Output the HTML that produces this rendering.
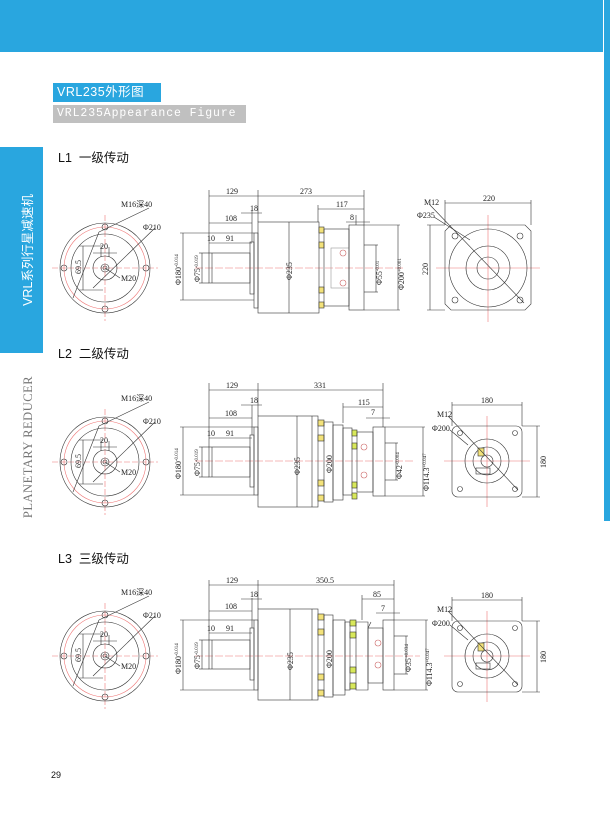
<!DOCTYPE html>
<html><head><meta charset="utf-8"><style>
body{margin:0;width:610px;height:826px;background:#fff;position:relative;overflow:hidden;font-family:"Liberation Sans","Noto Sans CJK SC",sans-serif}
.hdr{position:absolute;left:0;top:0;width:603px;height:52px;background:#29a6df}
.rs{position:absolute;left:604px;top:0;width:6px;height:521px;background:#29a6df}
.t1{position:absolute;left:53px;top:83px;width:108px;height:19px;background:#29a6df;color:#fff;font-size:12.5px;line-height:19px;padding-left:4px;box-sizing:border-box;letter-spacing:0.5px}
.t2{position:absolute;left:53px;top:105px;width:193px;height:18px;background:#c0c0c0;color:#fff;font-size:11.5px;line-height:18px;padding-left:4px;box-sizing:border-box;letter-spacing:0.9px;font-family:"Liberation Mono",monospace;white-space:nowrap;overflow:hidden}
.lb{position:absolute;left:0;top:147px;width:43px;height:206px;background:#29a6df}
.sec{position:absolute;left:58px;font-size:12.5px;color:#111}
.pg{position:absolute;left:51px;top:770px;font-size:9px;color:#111}
</style></head><body>
<div class="hdr"></div><div class="rs"></div>
<div class="t1">VRL235外形图</div>
<div class="t2">VRL235Appearance Figure</div>
<div class="lb"></div>
<div class="sec" style="top:147px">L1&nbsp; 一级传动</div>
<div class="sec" style="top:343px">L2&nbsp; 二级传动</div>
<div class="sec" style="top:548px">L3&nbsp; 三级传动</div>
<div class="pg">29</div>
<svg width="610" height="826" style="position:absolute;left:0;top:0" font-family="Liberation Serif,serif" font-size="8">
<text transform="translate(32,250) rotate(-90)" text-anchor="middle" fill="#fff" font-family="Liberation Sans,Noto Sans CJK SC,sans-serif" font-size="12.5">VRL系列行星减速机</text>
<text transform="translate(32,447) rotate(-90)" text-anchor="middle" fill="#777" font-size="12.5" letter-spacing="0.5">PLANETARY REDUCER</text>
<!-- left circle views -->
<g transform="translate(105,268)" fill="none" stroke="#333" stroke-width="0.6">
<line x1="-53" y1="0" x2="53" y2="0" stroke="#e77" stroke-dasharray="6,2"/><line x1="0" y1="-53" x2="0" y2="53" stroke="#e77" stroke-dasharray="6,2"/>
<circle r="45"/><circle r="41" stroke="#e77"/><circle r="34"/><circle r="12"/><circle r="4"/><circle r="2"/>
<circle cx="0" cy="-41" r="3"/><circle cx="0" cy="41" r="3"/><circle cx="-41" cy="0" r="3"/><circle cx="41" cy="0" r="3"/>
<line x1="-4" y1="-21" x2="-4" y2="-11"/><line x1="4" y1="-21" x2="4" y2="-11"/><line x1="-12" y1="-15" x2="12" y2="-15"/>
<line x1="-22" y1="-22" x2="-22" y2="22"/><line x1="-26" y1="-22" x2="-2" y2="-22"/><line x1="-26" y1="22" x2="-2" y2="22"/>
<line x1="44" y1="-60" x2="-6" y2="-36"/><line x1="-6" y1="-36" x2="-32" y2="30"/>
<line x1="50" y1="-40" x2="-12" y2="20"/><line x1="0" y1="0" x2="15" y2="10"/>
<g fill="#222" stroke="none"><text x="16" y="-61">M16深40</text><text x="38" y="-38">Φ210</text><text x="-5" y="-19">20</text><text x="16" y="13">M20</text><text transform="translate(-24,6) rotate(-90)">69.5</text></g>
</g>
<g transform="translate(0,194)"><g transform="translate(105,268)" fill="none" stroke="#333" stroke-width="0.6">
<line x1="-53" y1="0" x2="53" y2="0" stroke="#e77" stroke-dasharray="6,2"/><line x1="0" y1="-53" x2="0" y2="53" stroke="#e77" stroke-dasharray="6,2"/>
<circle r="45"/><circle r="41" stroke="#e77"/><circle r="34"/><circle r="12"/><circle r="4"/><circle r="2"/>
<circle cx="0" cy="-41" r="3"/><circle cx="0" cy="41" r="3"/><circle cx="-41" cy="0" r="3"/><circle cx="41" cy="0" r="3"/>
<line x1="-4" y1="-21" x2="-4" y2="-11"/><line x1="4" y1="-21" x2="4" y2="-11"/><line x1="-12" y1="-15" x2="12" y2="-15"/>
<line x1="-22" y1="-22" x2="-22" y2="22"/><line x1="-26" y1="-22" x2="-2" y2="-22"/><line x1="-26" y1="22" x2="-2" y2="22"/>
<line x1="44" y1="-60" x2="-6" y2="-36"/><line x1="-6" y1="-36" x2="-32" y2="30"/>
<line x1="50" y1="-40" x2="-12" y2="20"/><line x1="0" y1="0" x2="15" y2="10"/>
<g fill="#222" stroke="none"><text x="16" y="-61">M16深40</text><text x="38" y="-38">Φ210</text><text x="-5" y="-19">20</text><text x="16" y="13">M20</text><text transform="translate(-24,6) rotate(-90)">69.5</text></g>
</g></g>
<g transform="translate(0,388)"><g transform="translate(105,268)" fill="none" stroke="#333" stroke-width="0.6">
<line x1="-53" y1="0" x2="53" y2="0" stroke="#e77" stroke-dasharray="6,2"/><line x1="0" y1="-53" x2="0" y2="53" stroke="#e77" stroke-dasharray="6,2"/>
<circle r="45"/><circle r="41" stroke="#e77"/><circle r="34"/><circle r="12"/><circle r="4"/><circle r="2"/>
<circle cx="0" cy="-41" r="3"/><circle cx="0" cy="41" r="3"/><circle cx="-41" cy="0" r="3"/><circle cx="41" cy="0" r="3"/>
<line x1="-4" y1="-21" x2="-4" y2="-11"/><line x1="4" y1="-21" x2="4" y2="-11"/><line x1="-12" y1="-15" x2="12" y2="-15"/>
<line x1="-22" y1="-22" x2="-22" y2="22"/><line x1="-26" y1="-22" x2="-2" y2="-22"/><line x1="-26" y1="22" x2="-2" y2="22"/>
<line x1="44" y1="-60" x2="-6" y2="-36"/><line x1="-6" y1="-36" x2="-32" y2="30"/>
<line x1="50" y1="-40" x2="-12" y2="20"/><line x1="0" y1="0" x2="15" y2="10"/>
<g fill="#222" stroke="none"><text x="16" y="-61">M16深40</text><text x="38" y="-38">Φ210</text><text x="-5" y="-19">20</text><text x="16" y="13">M20</text><text transform="translate(-24,6) rotate(-90)">69.5</text></g>
</g></g>

<!-- L1 input side -->
<g fill="none" stroke="#333" stroke-width="0.6">
<line x1="195" y1="268" x2="405" y2="268" stroke="#e77" stroke-dasharray="8,2"/>
<rect x="209" y="253" width="41" height="30"/><line x1="212" y1="253" x2="212" y2="283"/>
<rect x="250" y="242" width="4" height="52"/><rect x="254" y="233" width="4" height="75"/>
<rect x="258" y="222" width="61" height="91"/><line x1="289" y1="222" x2="289" y2="313"/>
<line x1="209" y1="190" x2="209" y2="253"/><line x1="258" y1="190" x2="258" y2="222"/>
<line x1="209" y1="196" x2="258" y2="196"/><line x1="252" y1="223" x2="209" y2="223"/><line x1="252" y1="210" x2="252" y2="242"/>
<line x1="209" y1="243" x2="252" y2="243"/><line x1="241" y1="213" x2="262" y2="213"/>
<line x1="180" y1="233" x2="254" y2="233"/><line x1="180" y1="300" x2="254" y2="300"/><line x1="183" y1="233" x2="183" y2="300"/>
<line x1="199" y1="253" x2="209" y2="253"/><line x1="199" y1="283" x2="209" y2="283"/><line x1="202" y1="253" x2="202" y2="283"/>
<g fill="#222" stroke="none"><text x="226" y="194">129</text><text x="225" y="221">108</text><text x="250" y="211">18</text><text x="207" y="241">10</text><text x="226" y="241">91</text>
<text transform="translate(181,285) rotate(-90)">Φ180<tspan font-size="5" dy="-3">-0.014</tspan></text>
<text transform="translate(200,282) rotate(-90)">Φ75<tspan font-size="5" dy="-2">-0.019</tspan></text>
<text transform="translate(292,280) rotate(-90)">Φ235</text></g>
</g>
<!-- L1 output -->
<g fill="none" stroke="#333" stroke-width="0.6">
<line x1="258" y1="196" x2="364" y2="196"/><line x1="364" y1="190" x2="364" y2="225"/><text x="300" y="194" fill="#222" stroke="none">273</text>
<line x1="318" y1="209" x2="364" y2="209"/><line x1="318" y1="205" x2="318" y2="222"/><text x="336" y="207" fill="#222" stroke="none">117</text>
<line x1="346" y1="222" x2="370" y2="222"/><line x1="356" y1="215" x2="356" y2="225"/><text x="350" y="220" fill="#222" stroke="none">8</text>
<g fill="#f3e27a"><rect x="319" y="227" width="5" height="6"/><rect x="319" y="242" width="5" height="6"/><rect x="319" y="287" width="5" height="6"/><rect x="319" y="302" width="5" height="6"/></g>
<rect x="324" y="229" width="25" height="77"/><rect x="331" y="248" width="18" height="40" stroke="#999"/>
<circle cx="343" cy="253" r="3" stroke="#c66"/><circle cx="343" cy="283" r="3" stroke="#c66"/>
<rect x="349" y="225" width="15" height="85"/>
<line x1="364" y1="245" x2="378" y2="245"/><line x1="364" y1="292" x2="378" y2="292"/><line x1="376" y1="245" x2="376" y2="292"/>
<line x1="364" y1="225" x2="400" y2="225"/><line x1="364" y1="310" x2="400" y2="310"/><line x1="398" y1="225" x2="398" y2="310"/>
<g fill="#222" stroke="none"><text transform="translate(382,285) rotate(-90)">Φ55<tspan font-size="5" dy="-3">-0.01</tspan></text><text transform="translate(404,290) rotate(-90)">Φ200<tspan font-size="5" dy="-3">+0.001</tspan></text></g>
</g>
<!-- L1 right view -->
<g fill="none" stroke="#333" stroke-width="0.6">
<line x1="488" y1="215" x2="488" y2="322" stroke="#e77"/><line x1="436" y1="268" x2="540" y2="268" stroke="#e77"/>
<path d="M451 225H525L531 231V304L525 310H451L445 304V231Z"/>
<circle cx="488" cy="268" r="39"/><circle cx="488" cy="268" r="22"/><circle cx="488" cy="268" r="11"/>
<circle cx="455" cy="236" r="3"/><circle cx="520" cy="236" r="3"/><circle cx="455" cy="300" r="3"/><circle cx="520" cy="300" r="3"/>
<line x1="445" y1="203" x2="531" y2="203"/><line x1="445" y1="200" x2="445" y2="225"/><line x1="531" y1="200" x2="531" y2="225"/>
<line x1="430" y1="225" x2="430" y2="310"/><line x1="427" y1="225" x2="445" y2="225"/><line x1="427" y1="310" x2="445" y2="310"/>
<line x1="430" y1="205" x2="524" y2="303"/><line x1="434" y1="217" x2="470" y2="240"/>
<g fill="#222" stroke="none"><text x="483" y="201">220</text><text x="424" y="205">M12</text><text x="417" y="218">Φ235</text><text transform="translate(428,275) rotate(-90)">220</text></g>
</g>

<!-- L2 -->
<g transform="translate(0,193)"><g fill="none" stroke="#333" stroke-width="0.6">
<line x1="195" y1="268" x2="415" y2="268" stroke="#e77" stroke-dasharray="8,2"/>
<rect x="209" y="254" width="41" height="30"/><line x1="212" y1="254" x2="212" y2="284"/>
<rect x="250" y="242" width="4" height="52"/><rect x="254" y="234" width="4" height="68"/>
<rect x="258" y="223" width="60" height="91"/><line x1="297" y1="223" x2="297" y2="314"/><line x1="312" y1="223" x2="312" y2="314"/>
<line x1="209" y1="190" x2="209" y2="254"/><line x1="258" y1="190" x2="258" y2="223"/>
<line x1="209" y1="197" x2="383" y2="197"/><line x1="252" y1="225" x2="209" y2="225"/><line x1="252" y1="212" x2="252" y2="242"/>
<line x1="209" y1="245" x2="252" y2="245"/><line x1="241" y1="212" x2="262" y2="212"/>
<line x1="180" y1="234" x2="254" y2="234"/><line x1="180" y1="302" x2="254" y2="302"/><line x1="183" y1="234" x2="183" y2="302"/>
<line x1="199" y1="254" x2="209" y2="254"/><line x1="199" y1="284" x2="209" y2="284"/><line x1="202" y1="254" x2="202" y2="284"/>
<line x1="383" y1="190" x2="383" y2="234"/><line x1="343" y1="214" x2="383" y2="214"/><line x1="343" y1="210" x2="343" y2="230"/><line x1="366" y1="225" x2="390" y2="225"/>
<g fill="#f3e27a"><rect x="318" y="227" width="6" height="6"/><rect x="318" y="242" width="6" height="6"/><rect x="318" y="287" width="6" height="6"/><rect x="318" y="302" width="6" height="6"/></g>
<rect x="324" y="229" width="9" height="80"/><rect x="333" y="232" width="10" height="75"/>
<rect x="343" y="235" width="9" height="67"/>
<g fill="#d8e85a"><rect x="352" y="237" width="5" height="6"/><rect x="352" y="250" width="5" height="6"/><rect x="352" y="289" width="5" height="6"/><rect x="352" y="300" width="5" height="6"/></g>
<rect x="357" y="239" width="16" height="60"/>
<circle cx="364" cy="254" r="3" stroke="#c66"/><circle cx="364" cy="282" r="3" stroke="#c66"/>
<rect x="373" y="234" width="12" height="69"/>
<line x1="385" y1="250" x2="398" y2="250"/><line x1="385" y1="287" x2="398" y2="287"/><line x1="396" y1="250" x2="396" y2="287"/>
<line x1="385" y1="234" x2="425" y2="234"/><line x1="385" y1="303" x2="425" y2="303"/><line x1="423" y1="234" x2="423" y2="303"/>
<g fill="#222" stroke="none"><text x="226" y="195">129</text><text x="314" y="195">331</text><text x="225" y="223">108</text><text x="250" y="210">18</text><text x="358" y="212">115</text><text x="371" y="222">7</text><text x="207" y="243">10</text><text x="226" y="243">91</text>
<text transform="translate(181,286) rotate(-90)">Φ180<tspan font-size="5" dy="-3">-0.014</tspan></text>
<text transform="translate(200,283) rotate(-90)">Φ75<tspan font-size="5" dy="-2">-0.019</tspan></text>
<text transform="translate(300,282) rotate(-90)">Φ235</text><text transform="translate(332,280) rotate(-90)">Φ200</text>
<text transform="translate(402,286) rotate(-90)">Φ42<tspan font-size="5" dy="-3">-0.004</tspan></text><text transform="translate(429,298) rotate(-90)">Φ114.3<tspan font-size="5" dy="-3">+0.047</tspan></text></g>
</g></g>
<!-- L2/L3 right view -->
<g fill="none" stroke="#333" stroke-width="0.6">
<line x1="487" y1="416" x2="487" y2="507" stroke="#e77"/><line x1="444" y1="461" x2="530" y2="461" stroke="#e77"/>
<rect x="452" y="426" width="70" height="71" rx="6"/>
<circle cx="487" cy="461" r="22"/><circle cx="487" cy="461" r="14"/><circle cx="487" cy="461" r="6"/>
<rect x="478" y="448" width="6" height="8" fill="#f3e27a"/><rect x="476" y="468" width="14" height="6"/>
<circle cx="460" cy="433" r="2.5"/><circle cx="515" cy="433" r="2.5"/><circle cx="460" cy="489" r="2.5"/><circle cx="515" cy="489" r="2.5"/>
<line x1="452" y1="405" x2="522" y2="405"/><line x1="452" y1="402" x2="452" y2="426"/><line x1="522" y1="402" x2="522" y2="426"/>
<line x1="537" y1="426" x2="537" y2="497"/><line x1="522" y1="426" x2="540" y2="426"/><line x1="522" y1="497" x2="540" y2="497"/>
<line x1="448" y1="416" x2="518" y2="490"/><line x1="450" y1="430" x2="468" y2="445"/>
<g fill="#222" stroke="none"><text x="481" y="403">180</text><text x="437" y="417">M12</text><text x="432" y="431">Φ200</text><text transform="translate(546,468) rotate(-90)">180</text></g>
</g>
<g transform="translate(0,195)"><g fill="none" stroke="#333" stroke-width="0.6">
<line x1="487" y1="416" x2="487" y2="507" stroke="#e77"/><line x1="444" y1="461" x2="530" y2="461" stroke="#e77"/>
<rect x="452" y="426" width="70" height="71" rx="6"/>
<circle cx="487" cy="461" r="22"/><circle cx="487" cy="461" r="14"/><circle cx="487" cy="461" r="6"/>
<rect x="478" y="448" width="6" height="8" fill="#f3e27a"/><rect x="476" y="468" width="14" height="6"/>
<circle cx="460" cy="433" r="2.5"/><circle cx="515" cy="433" r="2.5"/><circle cx="460" cy="489" r="2.5"/><circle cx="515" cy="489" r="2.5"/>
<line x1="452" y1="405" x2="522" y2="405"/><line x1="452" y1="402" x2="452" y2="426"/><line x1="522" y1="402" x2="522" y2="426"/>
<line x1="537" y1="426" x2="537" y2="497"/><line x1="522" y1="426" x2="540" y2="426"/><line x1="522" y1="497" x2="540" y2="497"/>
<line x1="448" y1="416" x2="518" y2="490"/><line x1="450" y1="430" x2="468" y2="445"/>
<g fill="#222" stroke="none"><text x="481" y="403">180</text><text x="437" y="417">M12</text><text x="432" y="431">Φ200</text><text transform="translate(546,468) rotate(-90)">180</text></g>
</g></g>

<!-- L3 -->
<g transform="translate(0,388)"><g fill="none" stroke="#333" stroke-width="0.6">
<line x1="195" y1="268" x2="420" y2="268" stroke="#e77" stroke-dasharray="8,2"/>
<rect x="209" y="252" width="41" height="29"/><line x1="212" y1="252" x2="212" y2="281"/>
<rect x="250" y="240" width="4" height="52"/><rect x="254" y="232" width="4" height="70"/>
<rect x="258" y="221" width="60" height="91"/><line x1="290" y1="221" x2="290" y2="312"/><line x1="312" y1="221" x2="312" y2="312"/>
<line x1="209" y1="192" x2="209" y2="252"/><line x1="258" y1="192" x2="258" y2="221"/>
<line x1="209" y1="197" x2="394" y2="197"/><line x1="252" y1="223" x2="209" y2="223"/><line x1="252" y1="210" x2="252" y2="240"/>
<line x1="209" y1="245" x2="252" y2="245"/><line x1="241" y1="211" x2="262" y2="211"/>
<line x1="180" y1="232" x2="254" y2="232"/><line x1="180" y1="302" x2="254" y2="302"/><line x1="183" y1="232" x2="183" y2="302"/>
<line x1="199" y1="252" x2="209" y2="252"/><line x1="199" y1="281" x2="209" y2="281"/><line x1="202" y1="252" x2="202" y2="281"/>
<line x1="394" y1="192" x2="394" y2="232"/><line x1="362" y1="211" x2="394" y2="211"/><line x1="362" y1="207" x2="362" y2="232"/><line x1="376" y1="225" x2="400" y2="225"/>
<g fill="#f3e27a"><rect x="318" y="226" width="6" height="6"/><rect x="318" y="241" width="6" height="6"/><rect x="318" y="286" width="6" height="6"/><rect x="318" y="302" width="6" height="6"/></g>
<rect x="324" y="227" width="9" height="82"/><rect x="333" y="232" width="12" height="75"/>
<rect x="345" y="234" width="5" height="68"/>
<g fill="#d8e85a"><rect x="350" y="232" width="6" height="6"/><rect x="350" y="244" width="6" height="6"/><rect x="350" y="279" width="6" height="6"/><rect x="350" y="295" width="6" height="6"/></g>
<path d="M356 234H368V302H356Z"/><path d="M368 240L371 234"/>
<rect x="368" y="240" width="15" height="55"/>
<circle cx="378" cy="255" r="3" stroke="#c66"/><circle cx="378" cy="277" r="3" stroke="#c66"/>
<rect x="383" y="232" width="11" height="70"/>
<line x1="394" y1="248" x2="408" y2="248"/><line x1="394" y1="286" x2="408" y2="286"/><line x1="406" y1="248" x2="406" y2="286"/>
<line x1="394" y1="232" x2="428" y2="232"/><line x1="394" y1="302" x2="428" y2="302"/><line x1="426" y1="232" x2="426" y2="302"/>
<g fill="#222" stroke="none"><text x="226" y="195">129</text><text x="316" y="195">350.5</text><text x="225" y="221">108</text><text x="250" y="209">18</text><text x="373" y="209">85</text><text x="381" y="223">7</text><text x="207" y="243">10</text><text x="226" y="243">91</text>
<text transform="translate(181,286) rotate(-90)">Φ180<tspan font-size="5" dy="-3">-0.014</tspan></text>
<text transform="translate(200,281) rotate(-90)">Φ75<tspan font-size="5" dy="-2">-0.019</tspan></text>
<text transform="translate(293,282) rotate(-90)">Φ235</text><text transform="translate(332,280) rotate(-90)">Φ200</text>
<text transform="translate(411,284) rotate(-90)">Φ35<tspan font-size="5" dy="-3">+0.034</tspan></text><text transform="translate(432,298) rotate(-90)">Φ114.3<tspan font-size="5" dy="-3">+0.047</tspan></text></g>
</g></g>
</svg>
</body></html>
